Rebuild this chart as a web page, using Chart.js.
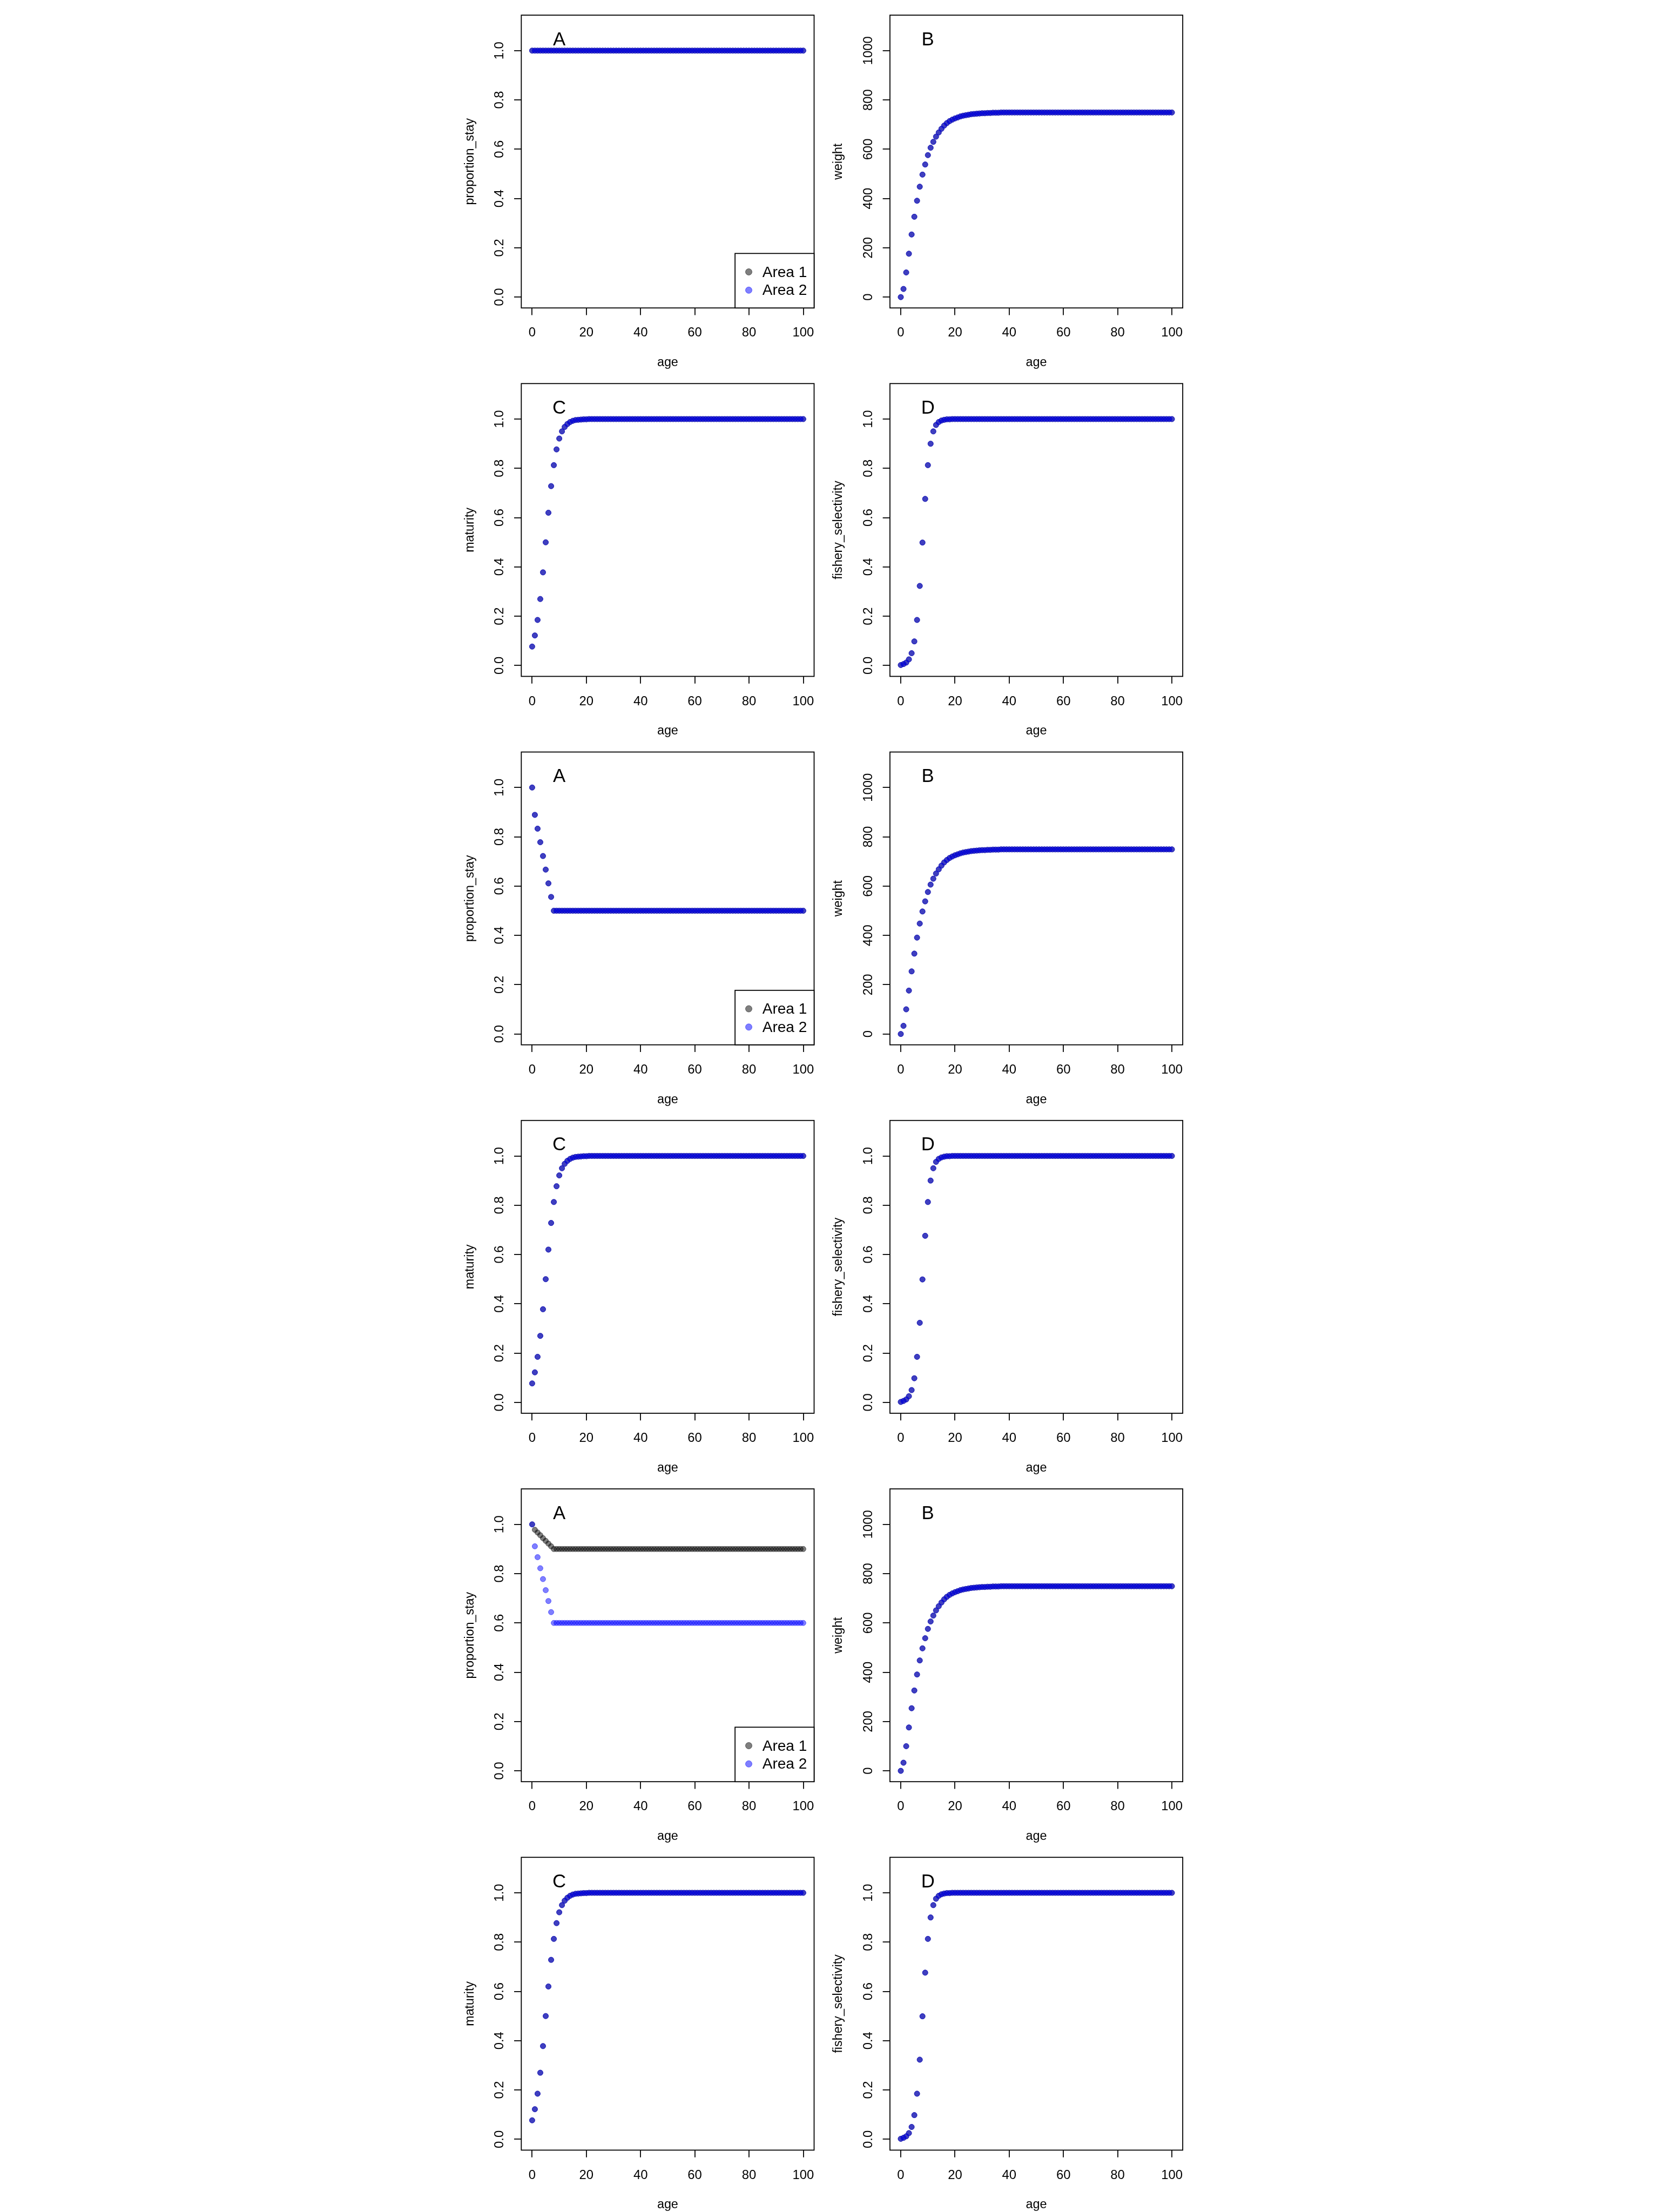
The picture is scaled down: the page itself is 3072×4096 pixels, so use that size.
<!DOCTYPE html>
<html>
<head>
<meta charset="utf-8">
<script src="https://cdn.jsdelivr.net/npm/chart.js@4.4.1/dist/chart.umd.min.js"></script>
<style>
html,body{margin:0;padding:0;background:#fff;overflow:hidden;}
#page{position:relative;width:3072px;height:4096px;background:#fff;overflow:hidden;}
#page canvas{position:absolute;}
</style>
</head>
<body>
<div id="page"></div>
<script>
// ---------------- DATA ----------------
const ages = [
0,1,2,3,4,5,6,7,8,9,
10,11,12,13,14,15,16,17,18,19,
20,21,22,23,24,25,26,27,28,29,
30,31,32,33,34,35,36,37,38,39,
40,41,42,43,44,45,46,47,48,49,
50,51,52,53,54,55,56,57,58,59,
60,61,62,63,64,65,66,67,68,69,
70,71,72,73,74,75,76,77,78,79,
80,81,82,83,84,85,86,87,88,89,
90,91,92,93,94,95,96,97,98,99,
100];

// scenario 1: no movement (proportion staying = 1 in both areas)
const stay1Area1 = [
1,1,1,1,1,1,1,1,1,1,
1,1,1,1,1,1,1,1,1,1,
1,1,1,1,1,1,1,1,1,1,
1,1,1,1,1,1,1,1,1,1,
1,1,1,1,1,1,1,1,1,1,
1,1,1,1,1,1,1,1,1,1,
1,1,1,1,1,1,1,1,1,1,
1,1,1,1,1,1,1,1,1,1,
1,1,1,1,1,1,1,1,1,1,
1,1,1,1,1,1,1,1,1,1,
1];
const stay1Area2 = [
1,1,1,1,1,1,1,1,1,1,
1,1,1,1,1,1,1,1,1,1,
1,1,1,1,1,1,1,1,1,1,
1,1,1,1,1,1,1,1,1,1,
1,1,1,1,1,1,1,1,1,1,
1,1,1,1,1,1,1,1,1,1,
1,1,1,1,1,1,1,1,1,1,
1,1,1,1,1,1,1,1,1,1,
1,1,1,1,1,1,1,1,1,1,
1,1,1,1,1,1,1,1,1,1,
1];

// scenario 2: both areas decline to 0.5
const stay2Area1 = [
1,0.889,0.833,0.778,0.722,0.667,0.611,0.556,0.5,0.5,
0.5,0.5,0.5,0.5,0.5,0.5,0.5,0.5,0.5,0.5,
0.5,0.5,0.5,0.5,0.5,0.5,0.5,0.5,0.5,0.5,
0.5,0.5,0.5,0.5,0.5,0.5,0.5,0.5,0.5,0.5,
0.5,0.5,0.5,0.5,0.5,0.5,0.5,0.5,0.5,0.5,
0.5,0.5,0.5,0.5,0.5,0.5,0.5,0.5,0.5,0.5,
0.5,0.5,0.5,0.5,0.5,0.5,0.5,0.5,0.5,0.5,
0.5,0.5,0.5,0.5,0.5,0.5,0.5,0.5,0.5,0.5,
0.5,0.5,0.5,0.5,0.5,0.5,0.5,0.5,0.5,0.5,
0.5,0.5,0.5,0.5,0.5,0.5,0.5,0.5,0.5,0.5,
0.5];
const stay2Area2 = [
1,0.889,0.833,0.778,0.722,0.667,0.611,0.556,0.5,0.5,
0.5,0.5,0.5,0.5,0.5,0.5,0.5,0.5,0.5,0.5,
0.5,0.5,0.5,0.5,0.5,0.5,0.5,0.5,0.5,0.5,
0.5,0.5,0.5,0.5,0.5,0.5,0.5,0.5,0.5,0.5,
0.5,0.5,0.5,0.5,0.5,0.5,0.5,0.5,0.5,0.5,
0.5,0.5,0.5,0.5,0.5,0.5,0.5,0.5,0.5,0.5,
0.5,0.5,0.5,0.5,0.5,0.5,0.5,0.5,0.5,0.5,
0.5,0.5,0.5,0.5,0.5,0.5,0.5,0.5,0.5,0.5,
0.5,0.5,0.5,0.5,0.5,0.5,0.5,0.5,0.5,0.5,
0.5,0.5,0.5,0.5,0.5,0.5,0.5,0.5,0.5,0.5,
0.5];

// scenario 3: area 1 declines to 0.9, area 2 declines to 0.6
const stay3Area1 = [
1,0.978,0.967,0.956,0.944,0.933,0.922,0.911,0.9,0.9,
0.9,0.9,0.9,0.9,0.9,0.9,0.9,0.9,0.9,0.9,
0.9,0.9,0.9,0.9,0.9,0.9,0.9,0.9,0.9,0.9,
0.9,0.9,0.9,0.9,0.9,0.9,0.9,0.9,0.9,0.9,
0.9,0.9,0.9,0.9,0.9,0.9,0.9,0.9,0.9,0.9,
0.9,0.9,0.9,0.9,0.9,0.9,0.9,0.9,0.9,0.9,
0.9,0.9,0.9,0.9,0.9,0.9,0.9,0.9,0.9,0.9,
0.9,0.9,0.9,0.9,0.9,0.9,0.9,0.9,0.9,0.9,
0.9,0.9,0.9,0.9,0.9,0.9,0.9,0.9,0.9,0.9,
0.9,0.9,0.9,0.9,0.9,0.9,0.9,0.9,0.9,0.9,
0.9];
const stay3Area2 = [
1,0.911,0.867,0.822,0.778,0.733,0.689,0.644,0.6,0.6,
0.6,0.6,0.6,0.6,0.6,0.6,0.6,0.6,0.6,0.6,
0.6,0.6,0.6,0.6,0.6,0.6,0.6,0.6,0.6,0.6,
0.6,0.6,0.6,0.6,0.6,0.6,0.6,0.6,0.6,0.6,
0.6,0.6,0.6,0.6,0.6,0.6,0.6,0.6,0.6,0.6,
0.6,0.6,0.6,0.6,0.6,0.6,0.6,0.6,0.6,0.6,
0.6,0.6,0.6,0.6,0.6,0.6,0.6,0.6,0.6,0.6,
0.6,0.6,0.6,0.6,0.6,0.6,0.6,0.6,0.6,0.6,
0.6,0.6,0.6,0.6,0.6,0.6,0.6,0.6,0.6,0.6,
0.6,0.6,0.6,0.6,0.6,0.6,0.6,0.6,0.6,0.6,
0.6];

// weight at age (same in both areas)
const weight = [
0,33,100,176,254,326,391,448,497,538,
576,606,630,651,668,683,696,706,714,720,
725,729,733,736,738,740,742,743,744,745,
746,746,747,747,748,748,748,749,749,749,
749,749,749,749,749,749,749,749,749,749,
749,749,749,749,749,749,749,749,749,749,
749,749,749,749,749,749,749,749,749,749,
749,749,749,749,749,749,749,749,749,749,
749,749,749,749,749,749,749,749,749,749,
749,749,749,749,749,749,749,749,749,749,
749];

// maturity at age (same in both areas)
const maturity = [
0.077,0.122,0.185,0.270,0.378,0.500,0.620,0.728,0.813,0.877,
0.921,0.950,0.968,0.980,0.988,0.993,0.996,0.997,0.998,0.999,
0.999,1,1,1,1,1,1,1,1,1,
1,1,1,1,1,1,1,1,1,1,
1,1,1,1,1,1,1,1,1,1,
1,1,1,1,1,1,1,1,1,1,
1,1,1,1,1,1,1,1,1,1,
1,1,1,1,1,1,1,1,1,1,
1,1,1,1,1,1,1,1,1,1,
1,1,1,1,1,1,1,1,1,1,
1];

// fishery selectivity at age (same in both areas)
const selectivity = [
0.002,0.006,0.012,0.025,0.050,0.098,0.185,0.323,0.499,0.676,
0.813,0.900,0.950,0.976,0.988,0.994,0.997,0.999,0.999,1,
1,1,1,1,1,1,1,1,1,1,
1,1,1,1,1,1,1,1,1,1,
1,1,1,1,1,1,1,1,1,1,
1,1,1,1,1,1,1,1,1,1,
1,1,1,1,1,1,1,1,1,1,
1,1,1,1,1,1,1,1,1,1,
1,1,1,1,1,1,1,1,1,1,
1,1,1,1,1,1,1,1,1,1,
1];

const seriesLabels = ['Area 1', 'Area 2'];
const xLim = [0, 100];
const xTicks = [0, 20, 40, 60, 80, 100];
const xTickLabels = ['0', '20', '40', '60', '80', '100'];
const propLim = [0, 1.1];
const propTicks = [0, 0.2, 0.4, 0.6, 0.8, 1.0];
const propTickLabels = ['0.0', '0.2', '0.4', '0.6', '0.8', '1.0'];
const weightLim = [0, 1100];
const weightTicks = [0, 200, 400, 600, 800, 1000];
const weightTickLabels = ['0', '200', '400', '600', '800', '1000'];

// ---------------- STYLE / LAYOUT ----------------
const S = 0.984;
const FONT = "'Liberation Sans', Arial, Helvetica, sans-serif";
const BOX = 551 * S;
const COL_LEFT = [981 * S, 1674.7 * S];
const ROW_TOP0 = 28.5 * S;
const ROW_PITCH = (4160 / 6) * S;
const FS_TICK = 23.8, FS_TITLE = 23.3, FS_LETTER = 34.7, FS_LEG = 28;
const TL = 13.3, LW = 1.8, PR = 5.0;
const COL1 = 'rgba(0,0,0,0.5)';
const COL2 = 'rgba(0,0,255,0.5)';

Chart.defaults.font.family = FONT;
Chart.defaults.color = '#000';

const propAxis = {lim: propLim, ticks: propTicks, labels: propTickLabels, letterY: 1.05};
const weightAxis = {lim: weightLim, ticks: weightTicks, labels: weightTickLabels, letterY: 1050};

const panels = [
  {row:0, col:0, a1:stay1Area1, a2:stay1Area2, axis:propAxis,   ylabel:'proportion_stay',     letter:'A', legend:true},
  {row:0, col:1, a1:weight,     a2:weight,     axis:weightAxis, ylabel:'weight',              letter:'B'},
  {row:1, col:0, a1:maturity,   a2:maturity,   axis:propAxis,   ylabel:'maturity',            letter:'C'},
  {row:1, col:1, a1:selectivity,a2:selectivity,axis:propAxis,   ylabel:'fishery_selectivity', letter:'D'},
  {row:2, col:0, a1:stay2Area1, a2:stay2Area2, axis:propAxis,   ylabel:'proportion_stay',     letter:'A', legend:true},
  {row:2, col:1, a1:weight,     a2:weight,     axis:weightAxis, ylabel:'weight',              letter:'B'},
  {row:3, col:0, a1:maturity,   a2:maturity,   axis:propAxis,   ylabel:'maturity',            letter:'C'},
  {row:3, col:1, a1:selectivity,a2:selectivity,axis:propAxis,   ylabel:'fishery_selectivity', letter:'D'},
  {row:4, col:0, a1:stay3Area1, a2:stay3Area2, axis:propAxis,   ylabel:'proportion_stay',     letter:'A', legend:true},
  {row:4, col:1, a1:weight,     a2:weight,     axis:weightAxis, ylabel:'weight',              letter:'B'},
  {row:5, col:0, a1:maturity,   a2:maturity,   axis:propAxis,   ylabel:'maturity',            letter:'C'},
  {row:5, col:1, a1:selectivity,a2:selectivity,axis:propAxis,   ylabel:'fishery_selectivity', letter:'D'}
];

function toPoints(vals) { return ages.map((a, i) => ({x: a, y: vals[i]})); }
function extend(lim) { const d = (lim[1] - lim[0]) * 0.04; return [lim[0] - d, lim[1] + d]; }

function makeDecor(p) {
  return {
    id: 'decor',
    beforeDatasetsDraw(chart) {
      const {ctx, chartArea: a} = chart;
      ctx.save();
      ctx.strokeStyle = '#000';
      ctx.lineWidth = LW;
      ctx.strokeRect(a.left, a.top, a.right - a.left, a.bottom - a.top);
      ctx.restore();
    },
    afterDraw(chart) {
      const {ctx, chartArea: a, scales: {x, y}} = chart;
      ctx.save();
      ctx.fillStyle = '#000';
      // rotated y tick labels
      ctx.font = FS_TICK + 'px ' + FONT;
      ctx.textAlign = 'center';
      ctx.textBaseline = 'middle';
      p.axis.ticks.forEach((v, i) => {
        const py = y.getPixelForValue(v);
        ctx.save();
        ctx.translate(a.left - 39.5, py);
        ctx.rotate(-Math.PI / 2);
        ctx.fillText(p.axis.labels[i], 0, 0);
        ctx.restore();
      });
      // panel letter
      ctx.font = FS_LETTER + 'px ' + FONT;
      ctx.fillText(p.letter, x.getPixelForValue(10), y.getPixelForValue(p.axis.letterY) + 3.2);
      // legend
      if (p.legend) {
        const lw = 146.4, lh = 100.9;
        const lx = a.right - lw, ly = a.bottom - lh;
        ctx.fillStyle = '#fff';
        ctx.fillRect(lx, ly, lw, lh);
        ctx.strokeStyle = '#000';
        ctx.lineWidth = LW;
        ctx.strokeRect(lx, ly, lw, lh);
        const rowsY = [34.2, 68.0];
        chart.data.datasets.forEach((ds, i) => {
          const cy = ly + rowsY[i];
          ctx.beginPath();
          ctx.arc(lx + 25.4, cy, 6.0, 0, Math.PI * 2);
          ctx.fillStyle = ds.backgroundColor;
          ctx.fill();
          ctx.lineWidth = 1;
          ctx.strokeStyle = ds.borderColor;
          ctx.stroke();
          ctx.fillStyle = '#000';
          ctx.font = FS_LEG + 'px ' + FONT;
          ctx.textAlign = 'left';
          ctx.textBaseline = 'middle';
          ctx.fillText(ds.label, lx + 50.7, cy + 1.3);
        });
      }
      ctx.restore();
    }
  };
}

const page = document.getElementById('page');
panels.forEach((p) => {
  const bl = COL_LEFT[p.col];
  const bt = ROW_TOP0 + p.row * ROW_PITCH;
  const cl = Math.floor(bl - 130);
  const ct = Math.floor(bt - 28);
  const cw = 700, ch = 690;
  const yW = bl - cl;
  const padTop = bt - ct;
  const padRight = cw - yW - BOX;
  const xH = ch - padTop - BOX;

  const cv = document.createElement('canvas');
  cv.width = cw; cv.height = ch;
  cv.style.left = cl + 'px'; cv.style.top = ct + 'px';
  cv.style.width = cw + 'px'; cv.style.height = ch + 'px';
  page.appendChild(cv);

  const xr = extend(xLim);
  const yr = extend(p.axis.lim);

  new Chart(cv, {
    type: 'scatter',
    data: {
      datasets: [
        {label: seriesLabels[0], data: toPoints(p.a1), backgroundColor: COL1, borderColor: COL1,
         borderWidth: 1, pointRadius: PR, pointHoverRadius: PR, order: 2},
        {label: seriesLabels[1], data: toPoints(p.a2), backgroundColor: COL2, borderColor: COL2,
         borderWidth: 1, pointRadius: PR, pointHoverRadius: PR, order: 1}
      ]
    },
    options: {
      responsive: false,
      animation: false,
      devicePixelRatio: 1,
      events: [],
      layout: {padding: {left: 0, top: padTop, right: padRight, bottom: 0}},
      plugins: {legend: {display: false}, tooltip: {enabled: false}},
      scales: {
        x: {
          type: 'linear', position: 'bottom', min: xr[0], max: xr[1], bounds: 'data',
          afterBuildTicks: (s) => { s.ticks = xTicks.map(v => ({value: v})); },
          afterFit: (s) => { s.height = xH; },
          grid: {display: true, drawOnChartArea: false, drawTicks: true, tickLength: TL, color: '#000', lineWidth: LW},
          border: {display: false},
          ticks: {display: true, padding: 19, color: '#000', font: {family: FONT, size: FS_TICK},
                  maxRotation: 0, minRotation: 0, autoSkip: false,
                  callback: (v, i) => xTickLabels[i]},
          title: {display: true, text: 'age', color: '#000', font: {family: FONT, size: FS_TITLE},
                  padding: {top: 0, bottom: xH - 101.5 - FS_TITLE * 0.6}}
        },
        y: {
          type: 'linear', position: 'left', min: yr[0], max: yr[1], bounds: 'data',
          afterBuildTicks: (s) => { s.ticks = p.axis.ticks.map(v => ({value: v})); },
          afterFit: (s) => { s.width = yW; },
          grid: {display: true, drawOnChartArea: false, drawTicks: true, tickLength: TL, color: '#000', lineWidth: LW},
          border: {display: false},
          ticks: {display: false},
          title: {display: true, text: p.ylabel, color: '#000', font: {family: FONT, size: FS_TITLE},
                  padding: {top: yW - 94.9 - FS_TITLE * 0.6, bottom: 0}}
        }
      }
    },
    plugins: [makeDecor(p)]
  });
});
</script>
</body>
</html>
